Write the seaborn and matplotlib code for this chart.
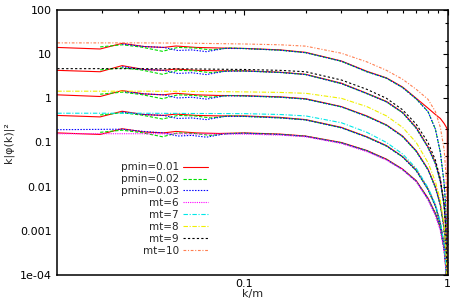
import numpy as np
import pandas as pd
import matplotlib
matplotlib.use("Agg")
import matplotlib.pyplot as plt
import seaborn as sns
from matplotlib.ticker import FixedLocator, FixedFormatter, LogLocator, NullFormatter

# ---------------- data ----------------
nan = np.nan
# low-k points of the three pmin series
red_x_low = [0.012, 0.0195, 0.025, 0.032, 0.04, 0.046, 0.058, 0.075]
green_x_low = [0.0195, 0.025, 0.031, 0.0395, 0.047, 0.057, 0.068, 0.085]
blue_x_low = [0.012, 0.025, 0.032, 0.04, 0.047, 0.055, 0.065, 0.08]
tail_x = [0.1, 0.15, 0.2, 0.3, 0.4, 0.5, 0.6, 0.7, 0.8, 0.87, 0.92, 0.96, 0.98, 0.995, 0.9999]

red_low = [
    [14.2, 13.1, 17.6, 14.9, 14.2, 15.3, 14.2, 13.8],
    [4.3, 4.0, 5.5, 4.5, 4.3, 4.6, 4.3, 4.2],
    [1.2, 1.1, 1.5, 1.26, 1.2, 1.3, 1.2, 1.16],
    [0.41, 0.38, 0.51, 0.43, 0.41, 0.44, 0.41, 0.4],
    [0.165, 0.152, 0.205, 0.173, 0.165, 0.178, 0.165, 0.16],
]
green_low = [
    [14.6, 16.3, 14.5, 11.6, 14.2, 13.8, 12.5, 13.8],
    [4.4, 4.9, 4.4, 3.5, 4.3, 4.2, 3.8, 4.2],
    [1.24, 1.38, 1.22, 0.98, 1.2, 1.16, 1.06, 1.16],
    [0.42, 0.47, 0.42, 0.34, 0.41, 0.4, 0.36, 0.4],
    [0.17, 0.19, 0.168, 0.135, 0.165, 0.16, 0.145, 0.16],
]
blue_low = [
    [nan, 17.0, 14.9, 14.2, 12.1, 12.5, 11.4, 13.5],
    [nan, 5.2, 4.5, 4.3, 3.65, 3.8, 3.45, 4.1],
    [nan, 1.44, 1.26, 1.2, 1.02, 1.06, 0.96, 1.14],
    [nan, 0.49, 0.43, 0.41, 0.35, 0.36, 0.33, 0.39],
    [0.195, 0.2, 0.178, 0.165, 0.14, 0.145, 0.132, 0.157],
]
red_tail = [
    [13.5, 12.5, 11.0, 7.0, 4.1, 2.9, 1.8, 1.0, 0.6, 0.43, 0.35, 0.27, 0.23, 0.2, 1e-6],
    [4.2, 3.9, 3.5, 2.2, 1.3, 0.85, 0.48, 0.22, 0.08, 0.035, 0.014, 0.004, 0.0012, 0.0002, 1e-6],
    [1.15, 1.08, 0.98, 0.65, 0.4, 0.25, 0.14, 0.065, 0.025, 0.01, 0.004, 0.0012, 0.0004, 0.00005, 1e-6],
    [0.4, 0.37, 0.33, 0.22, 0.135, 0.085, 0.048, 0.024, 0.009, 0.0038, 0.0015, 0.0005, 0.00018, 0.00003, 1e-6],
    [0.165, 0.155, 0.14, 0.1, 0.066, 0.042, 0.025, 0.0137, 0.0055, 0.0025, 0.0012, 0.0004, 0.00015, 0.00003, 1e-6],
]
gb_tail = [
    [13.4, 12.3, 10.8, 6.9, 4.0, 2.85, 1.75, 0.97, 0.5, 0.2, 0.06, 0.012, 0.003, 0.0004, 1e-6],
    [4.15, 3.85, 3.45, 2.15, 1.28, 0.83, 0.47, 0.21, 0.077, 0.033, 0.013, 0.0037, 0.0011, 0.00018, 1e-6],
    [1.13, 1.06, 0.96, 0.64, 0.39, 0.245, 0.136, 0.063, 0.024, 0.0095, 0.0038, 0.0011, 0.00037, 0.00005, 1e-6],
    [0.39, 0.36, 0.325, 0.215, 0.132, 0.083, 0.047, 0.023, 0.0086, 0.0036, 0.0014, 0.00047, 0.00017, 0.00003, 1e-6],
    [0.162, 0.152, 0.138, 0.098, 0.065, 0.041, 0.0245, 0.0133, 0.0053, 0.0024, 0.00115, 0.00038, 0.00014, 0.00003, 1e-6],
]

mt_x = [0.012, 0.03, 0.05, 0.1, 0.15, 0.2, 0.3, 0.4, 0.5, 0.6, 0.7, 0.8, 0.87, 0.92, 0.96, 0.98, 0.995, 0.9999]
mt6 = [0.158, 0.158, 0.157, 0.155, 0.147, 0.135, 0.095, 0.062, 0.04, 0.024, 0.013, 0.005, 0.0022, 0.001, 0.00035, 0.00012, 0.00002, 1e-6]
mt7 = [0.46, 0.46, 0.455, 0.45, 0.43, 0.4, 0.28, 0.17, 0.1, 0.055, 0.026, 0.0095, 0.004, 0.0016, 0.0005, 0.00017, 0.00003, 1e-6]
mt8 = [1.45, 1.45, 1.44, 1.4, 1.36, 1.3, 1.0, 0.65, 0.4, 0.22, 0.1, 0.035, 0.013, 0.005, 0.0013, 0.0004, 0.00005, 1e-6]
mt9 = [4.7, 4.7, 4.65, 4.5, 4.3, 4.0, 2.6, 1.6, 1.0, 0.55, 0.26, 0.1, 0.04, 0.015, 0.004, 0.001, 0.0001, 1e-6]
mt10 = [18, 18, 17.8, 17, 16.3, 15.2, 10.5, 6.7, 4.3, 2.7, 1.6, 0.95, 0.5, 0.22, 0.07, 0.02, 0.002, 1e-6]

legend_labels = ["pmin=0.01", "pmin=0.02", "pmin=0.03", "mt=6", "mt=7", "mt=8", "mt=9", "mt=10"]
x_ticks = [0.1, 1]
x_tick_labels = ["0.1", "1"]
y_ticks = [1e-4, 1e-3, 1e-2, 1e-1, 1, 10, 100]
y_tick_labels = ["1e-04", "0.001", "0.01", "0.1", "1", "10", "100"]

# ---------------- styling ----------------
sns.set_theme(style="white")
plt.rcParams["font.family"] = ["DejaVu Sans"]

colors = ["#ff0000", "#00e000", "#0000ff", "#ff00ff", "#00e8e8", "#f0f000", "#000000", "#ff7f50"]
styles = ["-", (0, (3, 1.5)), (0, (1.3, 1.3)), (0, (1, 1)), (0, (4, 1.5, 1, 1.5)),
          (0, (4, 1.5, 1, 1.5)), (0, (2, 2)), (0, (2.5, 1.5, 1, 1.5))]

fig = plt.figure(figsize=(4.63, 3.0), dpi=100)
ax = fig.add_axes([57.3 / 463, 25 / 300, (447.7 - 57.3) / 463, (275 - 10) / 300])
ax.set_xscale("log")
ax.set_yscale("log")

handles = [None] * 8


def draw(xs, ys, idx):
    df = pd.DataFrame({"k": xs, "v": ys}).dropna()
    sns.lineplot(data=df, x="k", y="v", ax=ax, color=colors[idx], linestyle=styles[idx],
                 lw=0.8, sort=False, estimator=None, legend=False)
    handles[idx] = ax.lines[-1]


for g in range(5):
    draw(red_x_low + tail_x, red_low[g] + red_tail[g], 0)
    draw(green_x_low + tail_x, green_low[g] + gb_tail[g], 1)
    draw(blue_x_low + tail_x, blue_low[g] + gb_tail[g], 2)

for i, ys in enumerate([mt6, mt7, mt8, mt9, mt10]):
    draw(mt_x, ys, 3 + i)

ax.set_xlim(0.012, 1)
ax.set_ylim(1e-4, 100)

ax.xaxis.set_major_locator(FixedLocator(x_ticks))
ax.xaxis.set_major_formatter(FixedFormatter(x_tick_labels))
ax.xaxis.set_minor_locator(LogLocator(base=10, subs=range(2, 10), numticks=20))
ax.xaxis.set_minor_formatter(NullFormatter())
ax.yaxis.set_major_locator(FixedLocator(y_ticks))
ax.yaxis.set_major_formatter(FixedFormatter(y_tick_labels))
ax.yaxis.set_minor_locator(LogLocator(base=10, subs=(2, 5), numticks=20))
ax.yaxis.set_minor_formatter(NullFormatter())

ax.tick_params(which="both", direction="in", top=True, right=True, colors="black",
               labelsize=8, width=0.8)
ax.tick_params(which="major", length=3.6)
ax.tick_params(which="minor", length=2.2)
ax.tick_params(axis="y", pad=4)
ax.tick_params(axis="x", pad=3)
for s in ax.spines.values():
    s.set_color("black")
    s.set_linewidth(1.1)

ax.set_xlabel("k/m", fontsize=8, labelpad=0)
ax.set_ylabel("k|φ(k)|²", fontsize=8, labelpad=4)

leg = ax.legend(handles, legend_labels, loc="upper right", bbox_to_anchor=(0.386, 0.425),
                frameon=False, markerfirst=False, fontsize=7.5, handlelength=2.4,
                handletextpad=0.4, labelspacing=0.18, borderpad=0, borderaxespad=0)

fig.savefig("out.png", dpi=100)
